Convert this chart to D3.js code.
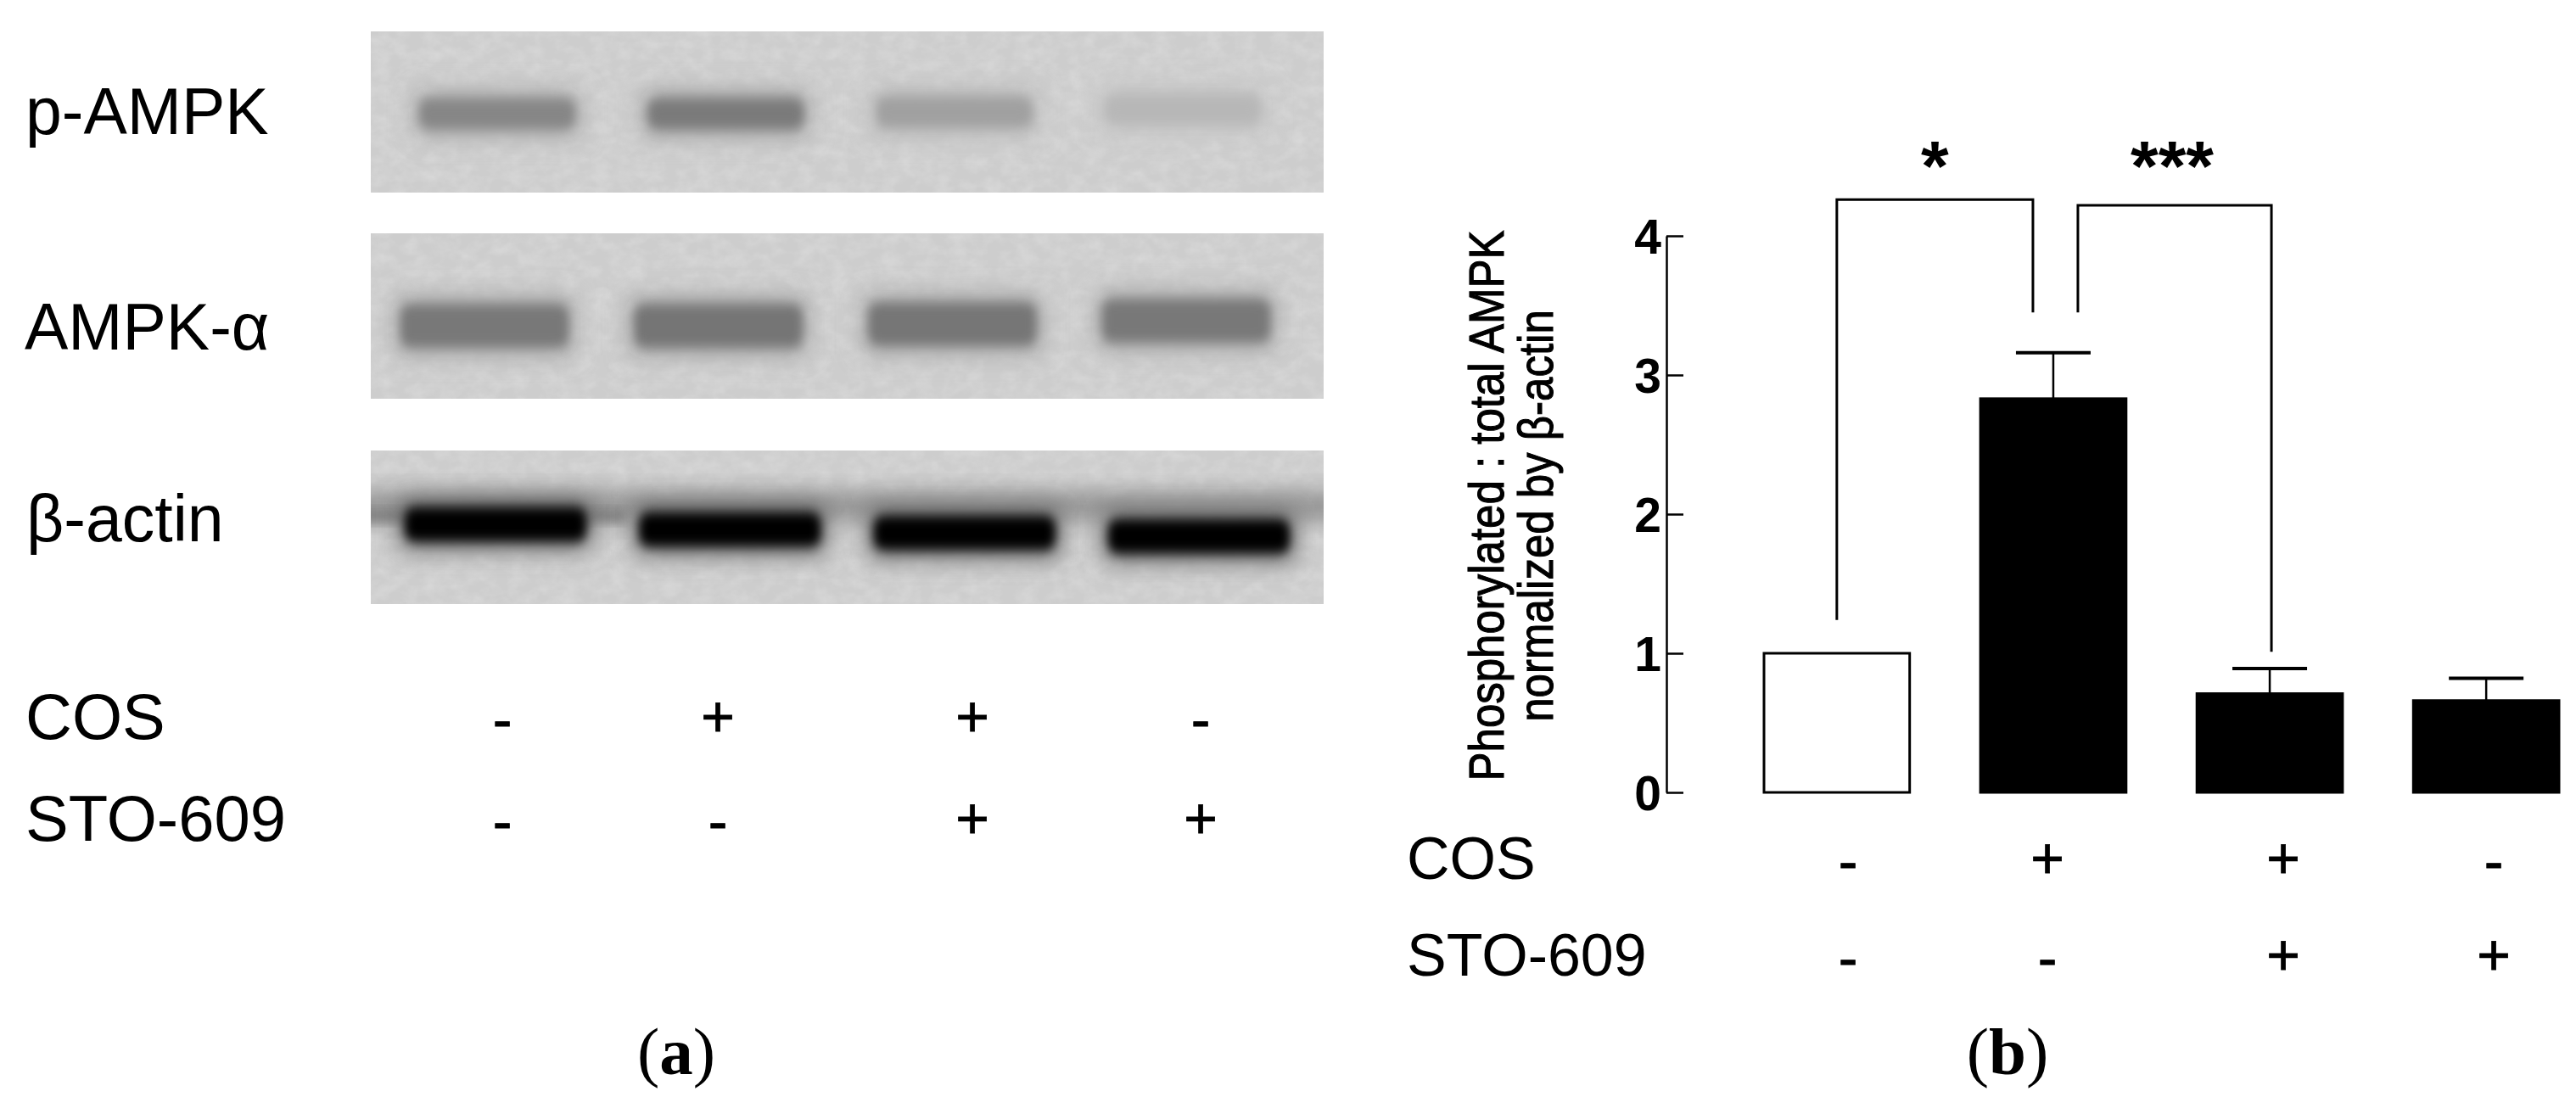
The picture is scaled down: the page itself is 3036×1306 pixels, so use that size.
<!DOCTYPE html>
<html>
<head>
<meta charset="utf-8">
<script src="https://cdnjs.cloudflare.com/ajax/libs/d3/7.8.5/d3.min.js"></script>
<style>
  html, body { margin: 0; padding: 0; background: #fff; }
  svg { display: block; }
  text { font-family: "Liberation Sans", Arial, sans-serif; fill: #000; }
  .caption { font-family: "Liberation Serif", "Times New Roman", serif; font-size: 79px; }
</style>
</head>
<body>
<svg id="chart" width="3036" height="1306"></svg>
<script>
// lanes and treatments
const lanes = ['L1', 'L2', 'L3', 'L4'];
const cosSigns = ['-', '+', '+', '-'];
const stoSigns = ['-', '-', '+', '+'];

// blot band density (0 = background, 1 = black)
const pAmpkDensity = [0.36, 0.42, 0.24, 0.13];
const ampkDensity = [0.43, 0.45, 0.44, 0.43];
const actinDensity = [1, 1, 1, 1];

// band migration in px below the top of the band row
const pAmpkShift = [0, 0, -2, -5];
const ampkShift = [0, 0, -2, -6];
const actinShift = [0, 6, 10, 14];

// bar chart values
const barValues = [1.0, 2.83, 0.71, 0.66];
const barUpper = [null, 3.16, 0.89, 0.82];
const yTicks = [0, 1, 2, 3, 4];

// brackets: value at the foot of each leg, left to right
const bracketFeet = [
  { from: 0, to: 1, footL: 1.24, footR: 3.45, top: 4.26, label: '*' },
  { from: 1, to: 2, footL: 3.45, footR: 1.01, top: 4.22, label: '***' }
];

const svg = d3.select('#chart');
const defs = svg.append('defs');

defs.append('filter').attr('id', 'blur')
    .attr('x', '-20%').attr('y', '-60%').attr('width', '140%').attr('height', '220%')
  .append('feGaussianBlur').attr('stdDeviation', '6 7');
defs.append('filter').attr('id', 'halo')
    .attr('x', '-20%').attr('y', '-80%').attr('width', '140%').attr('height', '260%')
  .append('feGaussianBlur').attr('stdDeviation', '14 14');

const grain = defs.append('filter').attr('id', 'grain')
    .attr('x', 0).attr('y', 0).attr('width', '100%').attr('height', '100%');
grain.append('feTurbulence')
    .attr('type', 'fractalNoise').attr('baseFrequency', '0.05 0.07')
    .attr('numOctaves', 3).attr('seed', 4);
grain.append('feColorMatrix').attr('type', 'matrix')
    .attr('values', '0 0 0 0 1  0 0 0 0 1  0 0 0 0 1  1.2 0 0 0 -0.42');

// ---- panel (a): blots ----
const blots = [
  { label: 'p-AMPK', density: pAmpkDensity, shift: pAmpkShift, top: 37, bottom: 227, rowY: 134, h: 36, w: 184, lane: [586, 1394], labelX: 30, labelY: 158 },
  { label: 'AMPK-\u03b1', density: ampkDensity, shift: ampkShift, top: 275, bottom: 470, rowY: 384, h: 50, w: 198, lane: [571, 1398], labelX: 29, labelY: 412 },
  { label: '\u03b2-actin', density: actinDensity, shift: actinShift, top: 531, bottom: 712, rowY: 618, h: 40, w: 214, lane: [584, 1413], labelX: 31, labelY: 638 }
];

const darkness = d3.scaleLinear().domain([0, 1]).range(['#d2d2d2', '#000000']);
const blotX = 437, blotW = 1123;

blots.forEach((b, i) => {
  const x = d3.scalePoint().domain(lanes).range(b.lane);
  const y = d3.scaleLinear().domain([0, 1]).range([b.rowY, b.rowY + 1]);
  const g = svg.append('g');

  defs.append('clipPath').attr('id', 'clip' + i)
    .append('rect').attr('x', blotX).attr('y', b.top).attr('width', blotW).attr('height', b.bottom - b.top);

  const inner = g.append('g').attr('clip-path', `url(#clip${i})`);
  inner.append('rect')
      .attr('x', blotX).attr('y', b.top).attr('width', blotW).attr('height', b.bottom - b.top)
      .attr('fill', '#cdcdcd');

  inner.append('rect')
      .attr('x', blotX).attr('y', b.top).attr('width', blotW).attr('height', b.bottom - b.top)
      .attr('filter', 'url(#grain)')
      .attr('opacity', 0.3);

  // the actin lane smears across the whole membrane just above the bands
  if (i === 2) {
    inner.append('rect')
        .attr('x', blotX - 40).attr('y', b.rowY - 36).attr('width', blotW + 80).attr('height', 30)
        .attr('fill', '#8a8a8a')
        .attr('filter', 'url(#halo)');
    inner.append('rect')
        .attr('x', blotX - 40).attr('y', b.rowY - 16).attr('width', 340).attr('height', 12)
        .attr('fill', '#777')
        .attr('filter', 'url(#blur)');
  }

  // soft shadow round the bands
  inner.selectAll('.halo')
      .data(lanes)
    .enter().append('rect')
      .attr('class', 'halo')
      .attr('x', d => x(d) - b.w / 2 - 6)
      .attr('y', (d, j) => y(b.shift[j]) - b.h / 2 - 10)
      .attr('width', b.w + 12)
      .attr('height', b.h + 20)
      .attr('fill', (d, j) => darkness(b.density[j] * 0.5))
      .attr('filter', 'url(#halo)');

  inner.selectAll('.band')
      .data(lanes)
    .enter().append('rect')
      .attr('class', 'band')
      .attr('x', d => x(d) - b.w / 2)
      .attr('y', (d, j) => y(b.shift[j]) - b.h / 2)
      .attr('width', b.w)
      .attr('height', b.h)
      .attr('rx', 12)
      .attr('fill', (d, j) => darkness(b.density[j]))
      .attr('filter', 'url(#blur)');

  g.append('text')
      .attr('x', b.labelX).attr('y', b.labelY)
      .style('font-size', '77px')
      .text(b.label);
});

// ---- treatment tables under both panels ----
function signTable(cfg) {
  const x = d3.scaleOrdinal().domain(lanes).range(cfg.xs);
  const g = svg.append('g');
  [[ 'COS', cosSigns, cfg.cosBase ], [ 'STO-609', stoSigns, cfg.stoBase ]].forEach(([name, signs, base]) => {
    g.append('text')
        .attr('x', cfg.labelX).attr('y', base)
        .style('font-size', cfg.size + 'px')
        .text(name);
    g.selectAll(null)
        .data(lanes)
      .enter().append('text')
        .attr('x', d => x(d))
        .attr('y', (d, i) => base + cfg.signDy + (signs[i] === '-' ? 4 : 0))
        .attr('text-anchor', 'middle')
        .attr('stroke', '#000').attr('stroke-width', 0.8)
        .style('font-size', '68px')
        .text((d, i) => signs[i]);
  });
}

signTable({ xs: [592, 846, 1146, 1415], labelX: 30, cosBase: 871, stoBase: 991, size: 76, signDy: -3 });
signTable({ xs: [2178, 2413, 2691, 2939], labelX: 1658, cosBase: 1036, stoBase: 1150, size: 70, signDy: -1 });

// ---- panel (b): bar chart ----
const x = d3.scaleBand().domain(lanes).range([2079, 3016]).paddingInner(0.327).paddingOuter(0);
const y = d3.scaleLinear().domain([0, 4]).range([934, 278]);

const yAxis = d3.axisLeft(y)
    .tickValues(yTicks)
    .tickFormat(d3.format('d'))
    .tickSizeInner(-20)
    .tickSizeOuter(0)
    .tickPadding(6);

const axisG = svg.append('g')
    .attr('transform', 'translate(1964,0)')
    .call(yAxis);
axisG.selectAll('path, line').attr('stroke', '#000').attr('stroke-width', 2.5);
axisG.selectAll('text')
    .style('font-size', '57px')
    .style('font-weight', 'bold')
    .attr('dy', '.36em');

svg.selectAll('.bar')
    .data(barValues)
  .enter().append('rect')
    .attr('class', 'bar')
    .attr('x', (d, i) => x(lanes[i]))
    .attr('y', d => y(d))
    .attr('width', x.bandwidth())
    .attr('height', d => y(0) - y(d))
    .attr('fill', (d, i) => i === 0 ? '#fff' : '#000')
    .attr('stroke', '#000')
    .attr('stroke-width', 3);

const errs = barUpper.map((u, i) => ({ lane: lanes[i], u, v: barValues[i] })).filter(d => d.u !== null);
const cx = d => x(d.lane) + x.bandwidth() / 2;

svg.selectAll('.stem')
    .data(errs)
  .enter().append('line')
    .attr('class', 'stem')
    .attr('x1', cx).attr('x2', cx)
    .attr('y1', d => y(d.v)).attr('y2', d => y(d.u))
    .attr('stroke', '#000').attr('stroke-width', 2.5);

svg.selectAll('.cap')
    .data(errs)
  .enter().append('line')
    .attr('class', 'cap')
    .attr('x1', d => cx(d) - 44).attr('x2', d => cx(d) + 44)
    .attr('y1', d => y(d.u)).attr('y2', d => y(d.u))
    .attr('stroke', '#000').attr('stroke-width', 4);

// significance brackets
const legOffset = [[0, -24], [29, 2]];
bracketFeet.forEach((b, i) => {
  const xl = x(lanes[b.from]) + x.bandwidth() / 2 + legOffset[i][0];
  const xr = x(lanes[b.to]) + x.bandwidth() / 2 + legOffset[i][1];
  const path = d3.path();
  path.moveTo(xl, y(b.footL));
  path.lineTo(xl, y(b.top));
  path.lineTo(xr, y(b.top));
  path.lineTo(xr, y(b.footR));
  svg.append('path')
      .attr('d', path.toString())
      .attr('fill', 'none')
      .attr('stroke', '#000')
      .attr('stroke-width', 3);
  svg.append('text')
      .attr('x', (xl + xr) / 2 + (i === 0 ? 0 : -3))
      .attr('y', 225)
      .attr('text-anchor', 'middle')
      .style('font-size', '84px')
      .style('font-weight', 'bold')
      .text(b.label);
});

// y label, two rotated lines
const yLabel = svg.append('g').attr('transform', 'translate(1772,596) rotate(-90) scale(1,1.12)');
yLabel.append('text')
    .attr('text-anchor', 'middle')
    .style('font-size', '51px')
    .attr('stroke', '#000').attr('stroke-width', 1)
    .text('Phosphorylated : total AMPK');
yLabel.append('text')
    .attr('x', -12).attr('y', 52)
    .attr('text-anchor', 'middle')
    .style('font-size', '51px')
    .attr('stroke', '#000').attr('stroke-width', 1)
    .text('normalized by \u03b2-actin');

// panel captions
[['a', 797], ['b', 2366]].forEach(([letter, cxp]) => {
  const t = svg.append('text')
      .attr('class', 'caption')
      .attr('x', cxp).attr('y', 1266)
      .attr('text-anchor', 'middle');
  t.append('tspan').style('font-family', '"Liberation Serif", serif').text('(');
  t.append('tspan').style('font-family', '"Liberation Serif", serif').style('font-weight', 'bold').text(letter);
  t.append('tspan').style('font-family', '"Liberation Serif", serif').text(')');
});
</script>
</body>
</html>
